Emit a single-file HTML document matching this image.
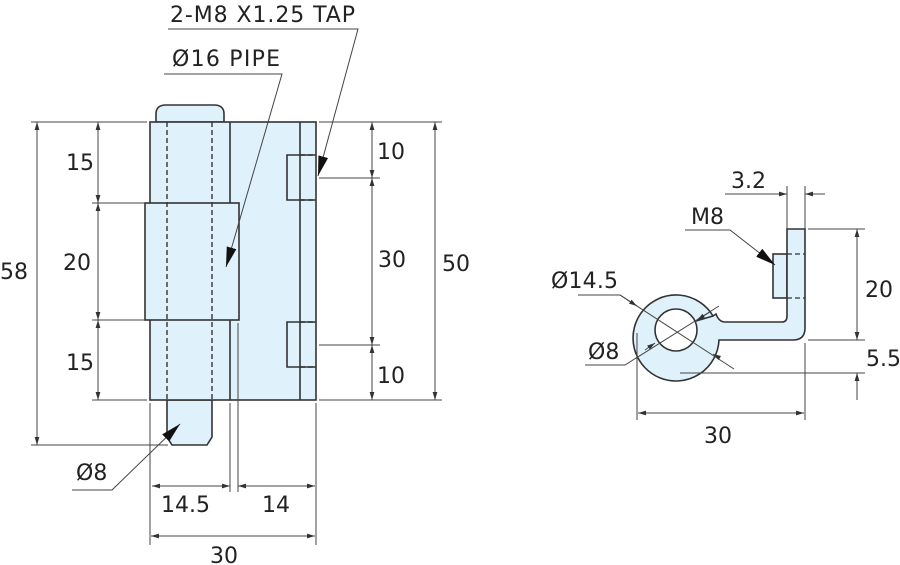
<!DOCTYPE html>
<html><head><meta charset="utf-8"><style>
html,body{margin:0;padding:0;background:#fff;width:900px;height:565px;overflow:hidden}
text{font-family:"DejaVu Sans","Liberation Sans",sans-serif;font-size:22px;fill:#222}
</style></head><body>
<svg width="900" height="565" viewBox="0 0 900 565" xmlns="http://www.w3.org/2000/svg">
<defs>
<marker id="a" viewBox="0 0 10 10" refX="10" refY="5" markerWidth="8" markerHeight="8" orient="auto-start-reverse" markerUnits="userSpaceOnUse"><path d="M0,2 L10,5 L0,8z" fill="#333"/></marker>
<marker id="b" viewBox="0 0 20 10" refX="20" refY="5" markerWidth="20" markerHeight="10" orient="auto" markerUnits="userSpaceOnUse"><path d="M0,0 L20,5 L0,10z" fill="#111"/></marker>
</defs>
<g fill="#dff2fc" stroke="#333" stroke-width="1.6">
<path d="M156,122 V114 Q156,105 166,105 H214 Q224,105 224,114 V122 Z"/>
<path d="M167,400 V437 L172,445 H207 L212,437 V400 Z"/>
<rect x="150" y="122" width="166" height="278"/>
<rect x="145" y="203" width="94" height="117"/>
<line x1="230" y1="122" x2="230" y2="203"/><line x1="230" y1="320" x2="230" y2="400"/>
<line x1="300" y1="122" x2="300" y2="400"/>
<path d="M316,155 H287 V200 H316" fill="none"/>
<path d="M316,322 H287 V367 H316" fill="none"/>
</g>
<g stroke="#333" stroke-width="1.4" stroke-dasharray="5,3" fill="none">
<line x1="167" y1="122" x2="167" y2="400"/><line x1="212" y1="122" x2="212" y2="400"/>
<line x1="300" y1="155" x2="316" y2="155"/><line x1="300" y1="200" x2="316" y2="200"/>
<line x1="300" y1="322" x2="316" y2="322"/><line x1="300" y1="367" x2="316" y2="367"/>
</g>
<g stroke="#444" stroke-width="1" fill="none">
<line x1="31" y1="122" x2="147" y2="122"/><line x1="92" y1="203" x2="145" y2="203"/>
<line x1="92" y1="320" x2="145" y2="320"/><line x1="92" y1="400" x2="147" y2="400"/>
<line x1="31" y1="445" x2="168" y2="445"/>
<line x1="37" y1="122" x2="37" y2="445" marker-start="url(#a)" marker-end="url(#a)"/>
<line x1="98" y1="122" x2="98" y2="203" marker-start="url(#a)" marker-end="url(#a)"/>
<line x1="98" y1="203" x2="98" y2="320" marker-start="url(#a)" marker-end="url(#a)"/>
<line x1="98" y1="320" x2="98" y2="400" marker-start="url(#a)" marker-end="url(#a)"/>
<line x1="319" y1="122" x2="442" y2="122"/><line x1="319" y1="400" x2="442" y2="400"/>
<line x1="319" y1="178" x2="380" y2="178"/><line x1="319" y1="345" x2="380" y2="345"/>
<line x1="372" y1="122" x2="372" y2="178" marker-start="url(#a)" marker-end="url(#a)"/>
<line x1="372" y1="178" x2="372" y2="345" marker-start="url(#a)" marker-end="url(#a)"/>
<line x1="372" y1="345" x2="372" y2="400" marker-start="url(#a)" marker-end="url(#a)"/>
<line x1="435" y1="122" x2="435" y2="400" marker-start="url(#a)" marker-end="url(#a)"/>
<line x1="150" y1="403" x2="150" y2="545"/><line x1="316" y1="403" x2="316" y2="545"/>
<line x1="230" y1="403" x2="230" y2="492"/><line x1="238" y1="323" x2="238" y2="492"/>
<line x1="152" y1="486" x2="230" y2="486" marker-start="url(#a)" marker-end="url(#a)"/>
<line x1="238" y1="486" x2="315" y2="486" marker-start="url(#a)" marker-end="url(#a)"/>
<line x1="151" y1="536" x2="315" y2="536" marker-start="url(#a)" marker-end="url(#a)"/>
<polyline points="168,29 358,29 318,176" marker-end="url(#b)"/>
<polyline points="164,74 282,74 226,267" marker-end="url(#b)"/>
<polyline points="72,490 112,490 180,424" marker-end="url(#b)"/>
</g>
<text x="170" y="22" textLength="185">2-M8 X1.25 TAP</text>
<text x="172" y="66" textLength="108">Ø16 PIPE</text>
<text x="0" y="279">58</text>
<text x="66" y="170">15</text>
<text x="63" y="270">20</text>
<text x="66" y="370">15</text>
<text x="377" y="159">10</text>
<text x="378" y="267">30</text>
<text x="377" y="383">10</text>
<text x="442" y="271">50</text>
<text x="76" y="480">Ø8</text>
<text x="161" y="512">14.5</text>
<text x="262" y="512">14</text>
<text x="210" y="563">30</text>

<g fill="#dff2fc" stroke="#333" stroke-width="1.6">
<rect x="773" y="254" width="14" height="44"/>
<path d="M787,229 H805 V328 Q805,340 793,340 H719 A43,43 0 1 1 713,316 L716,314 Q719,322 725,322 H782 Q787,322 787,316 Z"/>
<circle cx="676" cy="330" r="21" fill="#fff"/>
</g>
<path d="M713,316 L696,321" stroke="#333" stroke-width="1.6" fill="none"/>
<g stroke="#333" stroke-width="1.3" stroke-dasharray="5,3">
<line x1="787" y1="254" x2="805" y2="254"/><line x1="787" y1="298" x2="805" y2="298"/>
</g>
<g stroke="#444" stroke-width="1" fill="none">
<line x1="787" y1="186" x2="787" y2="229"/><line x1="805" y1="186" x2="805" y2="229"/>
<line x1="725" y1="194" x2="787" y2="194" marker-end="url(#a)"/>
<line x1="825" y1="194" x2="805" y2="194" marker-end="url(#a)"/>
<line x1="808" y1="229" x2="865" y2="229"/><line x1="808" y1="340" x2="865" y2="340"/>
<line x1="680" y1="373" x2="865" y2="373"/>
<line x1="857" y1="229" x2="857" y2="340" marker-start="url(#a)" marker-end="url(#a)"/>
<line x1="857" y1="400" x2="857" y2="373" marker-end="url(#a)"/>
<line x1="637" y1="333" x2="637" y2="420"/><line x1="805" y1="343" x2="805" y2="420"/>
<line x1="638" y1="413" x2="804" y2="413" marker-start="url(#a)" marker-end="url(#a)"/>
<polyline points="685,230 730,230 775,265" marker-end="url(#b)"/>
<polyline points="578,295 620,295 734,369"/>
<line x1="620" y1="295" x2="637" y2="306" marker-end="url(#a)"/>
<line x1="718" y1="357" x2="713" y2="354" marker-end="url(#a)"/>
<polyline points="585,365 625,365 719,306"/>
<line x1="645" y1="350" x2="655" y2="343" marker-end="url(#a)"/>
<line x1="710" y1="312" x2="697" y2="320" marker-end="url(#a)"/>
</g>
<text x="731" y="188">3.2</text>
<text x="691" y="224">M8</text>
<text x="865" y="297">20</text>
<text x="866" y="366">5.5</text>
<text x="551" y="288" textLength="67">Ø14.5</text>
<text x="588" y="359">Ø8</text>
<text x="704" y="443">30</text>
</svg>
</body></html>
